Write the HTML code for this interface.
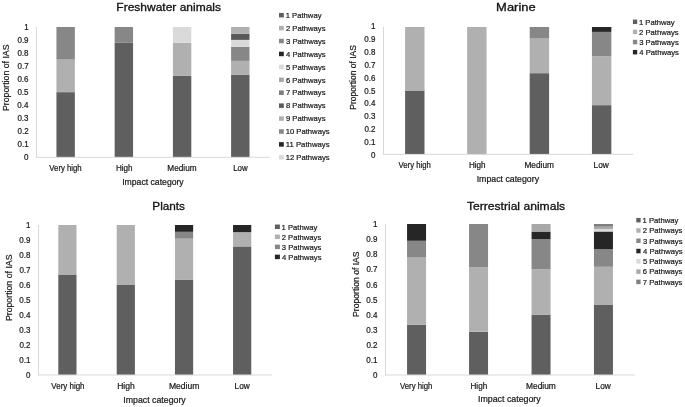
<!DOCTYPE html>
<html><head><meta charset="utf-8"><title>Pathways by impact category</title>
<style>
html,body{margin:0;padding:0;background:#fff;}
body{width:685px;height:407px;overflow:hidden;}
svg{display:block;font-family:"Liberation Sans",Arial,sans-serif;}
</style></head><body>
<svg width="685" height="407" viewBox="0 0 685 407">
<rect width="685" height="407" fill="#fff"/>
<rect x="56.45" y="92.15" width="18.40" height="65.15" fill="#5f5f5f"/>
<rect x="56.45" y="59.58" width="18.40" height="32.58" fill="#b0b0b0"/>
<rect x="56.45" y="27.00" width="18.40" height="32.58" fill="#878787"/>
<rect x="114.65" y="42.80" width="18.40" height="114.50" fill="#5f5f5f"/>
<rect x="114.65" y="27.00" width="18.40" height="15.80" fill="#878787"/>
<rect x="172.90" y="75.86" width="18.40" height="81.44" fill="#5f5f5f"/>
<rect x="172.90" y="42.80" width="18.40" height="33.06" fill="#b0b0b0"/>
<rect x="172.90" y="27.00" width="18.40" height="15.80" fill="#dadada"/>
<rect x="231.10" y="74.90" width="18.40" height="82.40" fill="#5f5f5f"/>
<rect x="231.10" y="60.90" width="18.40" height="14.00" fill="#b0b0b0"/>
<rect x="231.10" y="46.85" width="18.40" height="14.05" fill="#878787"/>
<rect x="231.10" y="39.90" width="18.40" height="6.95" fill="#dadada"/>
<rect x="231.10" y="33.75" width="18.40" height="6.15" fill="#595959"/>
<rect x="231.10" y="27.00" width="18.40" height="6.75" fill="#b0b0b0"/>
<rect x="36.00" y="27.00" width="1" height="130.80" fill="#d9d9d9"/>
<rect x="36.00" y="156.80" width="233.50" height="1" fill="#d9d9d9"/>
<text x="24.06" y="160.46" font-size="8.6" textLength="4.45" lengthAdjust="spacingAndGlyphs" fill="#161616" stroke="#161616" stroke-width="0.2">0</text>
<text x="17.47" y="147.37" font-size="8.6" textLength="11.12" lengthAdjust="spacingAndGlyphs" fill="#161616" stroke="#161616" stroke-width="0.2">0.1</text>
<text x="17.48" y="134.28" font-size="8.6" textLength="11.12" lengthAdjust="spacingAndGlyphs" fill="#161616" stroke="#161616" stroke-width="0.2">0.2</text>
<text x="17.43" y="121.19" font-size="8.6" textLength="11.12" lengthAdjust="spacingAndGlyphs" fill="#161616" stroke="#161616" stroke-width="0.2">0.3</text>
<text x="17.32" y="108.10" font-size="8.6" textLength="11.12" lengthAdjust="spacingAndGlyphs" fill="#161616" stroke="#161616" stroke-width="0.2">0.4</text>
<text x="17.42" y="95.01" font-size="8.6" textLength="11.12" lengthAdjust="spacingAndGlyphs" fill="#161616" stroke="#161616" stroke-width="0.2">0.5</text>
<text x="17.43" y="81.92" font-size="8.6" textLength="11.12" lengthAdjust="spacingAndGlyphs" fill="#161616" stroke="#161616" stroke-width="0.2">0.6</text>
<text x="17.48" y="68.83" font-size="8.6" textLength="11.12" lengthAdjust="spacingAndGlyphs" fill="#161616" stroke="#161616" stroke-width="0.2">0.7</text>
<text x="17.43" y="55.74" font-size="8.6" textLength="11.12" lengthAdjust="spacingAndGlyphs" fill="#161616" stroke="#161616" stroke-width="0.2">0.8</text>
<text x="17.46" y="42.65" font-size="8.6" textLength="11.12" lengthAdjust="spacingAndGlyphs" fill="#161616" stroke="#161616" stroke-width="0.2">0.9</text>
<text x="24.14" y="29.56" font-size="8.6" textLength="4.45" lengthAdjust="spacingAndGlyphs" fill="#161616" stroke="#161616" stroke-width="0.2">1</text>
<text x="49.37" y="171.20" font-size="8.2" textLength="32.33" lengthAdjust="spacingAndGlyphs" fill="#161616" stroke="#161616" stroke-width="0.2">Very high</text>
<text x="115.93" y="171.20" font-size="8.2" textLength="16.69" lengthAdjust="spacingAndGlyphs" fill="#161616" stroke="#161616" stroke-width="0.2">High</text>
<text x="167.33" y="171.20" font-size="8.2" textLength="29.22" lengthAdjust="spacingAndGlyphs" fill="#161616" stroke="#161616" stroke-width="0.2">Medium</text>
<text x="233.25" y="171.20" font-size="8.2" textLength="14.43" lengthAdjust="spacingAndGlyphs" fill="#161616" stroke="#161616" stroke-width="0.2">Low</text>
<text x="122.20" y="185.00" font-size="8.6" textLength="61.51" lengthAdjust="spacingAndGlyphs" fill="#161616" stroke="#161616" stroke-width="0.2">Impact category</text>
<text x="116.32" y="10.80" font-size="10.9" textLength="104.72" lengthAdjust="spacingAndGlyphs" fill="#111111" stroke="#111111" stroke-width="0.3">Freshwater animals</text>
<text transform="translate(8.74,111.02) rotate(-90)" x="0" y="0" font-size="8.2" textLength="66.52" lengthAdjust="spacingAndGlyphs" fill="#161616" stroke="#161616" stroke-width="0.2">Proportion of IAS</text>
<rect x="279.00" y="12.95" width="4.80" height="4.5" fill="#5f5f5f"/>
<text x="285.72" y="17.95" font-size="8.0" textLength="35.75" lengthAdjust="spacingAndGlyphs" fill="#161616" stroke="#161616" stroke-width="0.2">1 Pathway</text>
<rect x="279.00" y="25.87" width="4.80" height="4.5" fill="#b0b0b0"/>
<text x="285.91" y="30.87" font-size="8.0" textLength="39.58" lengthAdjust="spacingAndGlyphs" fill="#161616" stroke="#161616" stroke-width="0.2">2 Pathways</text>
<rect x="279.00" y="38.79" width="4.80" height="4.5" fill="#878787"/>
<text x="286.01" y="43.79" font-size="8.0" textLength="39.58" lengthAdjust="spacingAndGlyphs" fill="#161616" stroke="#161616" stroke-width="0.2">3 Pathways</text>
<rect x="279.00" y="51.71" width="4.80" height="4.5" fill="#262626"/>
<text x="286.12" y="56.71" font-size="8.0" textLength="39.58" lengthAdjust="spacingAndGlyphs" fill="#161616" stroke="#161616" stroke-width="0.2">4 Pathways</text>
<rect x="279.00" y="64.63" width="4.80" height="4.5" fill="#dadada"/>
<text x="285.99" y="69.63" font-size="8.0" textLength="39.58" lengthAdjust="spacingAndGlyphs" fill="#161616" stroke="#161616" stroke-width="0.2">5 Pathways</text>
<rect x="279.00" y="77.55" width="4.80" height="4.5" fill="#a8a8a8"/>
<text x="285.91" y="82.55" font-size="8.0" textLength="39.58" lengthAdjust="spacingAndGlyphs" fill="#161616" stroke="#161616" stroke-width="0.2">6 Pathways</text>
<rect x="279.00" y="90.47" width="4.80" height="4.5" fill="#7f7f7f"/>
<text x="285.91" y="95.47" font-size="8.0" textLength="39.58" lengthAdjust="spacingAndGlyphs" fill="#161616" stroke="#161616" stroke-width="0.2">7 Pathways</text>
<rect x="279.00" y="103.39" width="4.80" height="4.5" fill="#595959"/>
<text x="285.97" y="108.39" font-size="8.0" textLength="39.58" lengthAdjust="spacingAndGlyphs" fill="#161616" stroke="#161616" stroke-width="0.2">8 Pathways</text>
<rect x="279.00" y="116.31" width="4.80" height="4.5" fill="#b0b0b0"/>
<text x="285.94" y="121.31" font-size="8.0" textLength="39.58" lengthAdjust="spacingAndGlyphs" fill="#161616" stroke="#161616" stroke-width="0.2">9 Pathways</text>
<rect x="279.00" y="129.23" width="4.80" height="4.5" fill="#878787"/>
<text x="285.72" y="134.23" font-size="8.0" textLength="43.84" lengthAdjust="spacingAndGlyphs" fill="#161616" stroke="#161616" stroke-width="0.2">10 Pathways</text>
<rect x="279.00" y="142.15" width="4.80" height="4.5" fill="#262626"/>
<text x="285.72" y="147.15" font-size="8.0" textLength="43.84" lengthAdjust="spacingAndGlyphs" fill="#161616" stroke="#161616" stroke-width="0.2">11 Pathways</text>
<rect x="279.00" y="155.07" width="4.80" height="4.5" fill="#dadada"/>
<text x="285.72" y="160.07" font-size="8.0" textLength="43.84" lengthAdjust="spacingAndGlyphs" fill="#161616" stroke="#161616" stroke-width="0.2">12 Pathways</text>
<rect x="405.10" y="90.50" width="19.40" height="63.50" fill="#5f5f5f"/>
<rect x="405.10" y="27.00" width="19.40" height="63.50" fill="#b0b0b0"/>
<rect x="467.15" y="27.00" width="19.40" height="127.00" fill="#b0b0b0"/>
<rect x="529.70" y="73.18" width="19.40" height="80.82" fill="#5f5f5f"/>
<rect x="529.70" y="38.55" width="19.40" height="34.64" fill="#b0b0b0"/>
<rect x="529.70" y="27.00" width="19.40" height="11.55" fill="#878787"/>
<rect x="591.95" y="105.15" width="19.40" height="48.85" fill="#5f5f5f"/>
<rect x="591.95" y="56.31" width="19.40" height="48.85" fill="#b0b0b0"/>
<rect x="591.95" y="31.88" width="19.40" height="24.42" fill="#878787"/>
<rect x="591.95" y="27.00" width="19.40" height="4.88" fill="#262626"/>
<rect x="383.00" y="27.00" width="1" height="127.50" fill="#d9d9d9"/>
<rect x="383.00" y="153.90" width="250.30" height="1" fill="#d9d9d9"/>
<text x="370.96" y="157.56" font-size="8.6" textLength="4.45" lengthAdjust="spacingAndGlyphs" fill="#161616" stroke="#161616" stroke-width="0.2">0</text>
<text x="364.37" y="144.75" font-size="8.6" textLength="11.12" lengthAdjust="spacingAndGlyphs" fill="#161616" stroke="#161616" stroke-width="0.2">0.1</text>
<text x="364.38" y="131.94" font-size="8.6" textLength="11.12" lengthAdjust="spacingAndGlyphs" fill="#161616" stroke="#161616" stroke-width="0.2">0.2</text>
<text x="364.33" y="119.13" font-size="8.6" textLength="11.12" lengthAdjust="spacingAndGlyphs" fill="#161616" stroke="#161616" stroke-width="0.2">0.3</text>
<text x="364.22" y="106.32" font-size="8.6" textLength="11.12" lengthAdjust="spacingAndGlyphs" fill="#161616" stroke="#161616" stroke-width="0.2">0.4</text>
<text x="364.32" y="93.51" font-size="8.6" textLength="11.12" lengthAdjust="spacingAndGlyphs" fill="#161616" stroke="#161616" stroke-width="0.2">0.5</text>
<text x="364.33" y="80.70" font-size="8.6" textLength="11.12" lengthAdjust="spacingAndGlyphs" fill="#161616" stroke="#161616" stroke-width="0.2">0.6</text>
<text x="364.38" y="67.89" font-size="8.6" textLength="11.12" lengthAdjust="spacingAndGlyphs" fill="#161616" stroke="#161616" stroke-width="0.2">0.7</text>
<text x="364.33" y="55.08" font-size="8.6" textLength="11.12" lengthAdjust="spacingAndGlyphs" fill="#161616" stroke="#161616" stroke-width="0.2">0.8</text>
<text x="364.36" y="42.27" font-size="8.6" textLength="11.12" lengthAdjust="spacingAndGlyphs" fill="#161616" stroke="#161616" stroke-width="0.2">0.9</text>
<text x="371.04" y="29.46" font-size="8.6" textLength="4.45" lengthAdjust="spacingAndGlyphs" fill="#161616" stroke="#161616" stroke-width="0.2">1</text>
<text x="398.57" y="167.80" font-size="8.2" textLength="32.23" lengthAdjust="spacingAndGlyphs" fill="#161616" stroke="#161616" stroke-width="0.2">Very high</text>
<text x="468.93" y="167.80" font-size="8.2" textLength="16.69" lengthAdjust="spacingAndGlyphs" fill="#161616" stroke="#161616" stroke-width="0.2">High</text>
<text x="524.42" y="167.80" font-size="8.2" textLength="29.53" lengthAdjust="spacingAndGlyphs" fill="#161616" stroke="#161616" stroke-width="0.2">Medium</text>
<text x="593.52" y="167.80" font-size="8.2" textLength="15.26" lengthAdjust="spacingAndGlyphs" fill="#161616" stroke="#161616" stroke-width="0.2">Low</text>
<text x="476.69" y="182.20" font-size="8.6" textLength="62.33" lengthAdjust="spacingAndGlyphs" fill="#161616" stroke="#161616" stroke-width="0.2">Impact category</text>
<text x="496.14" y="10.90" font-size="10.9" textLength="39.54" lengthAdjust="spacingAndGlyphs" fill="#111111" stroke="#111111" stroke-width="0.3">Marine</text>
<text transform="translate(356.44,109.70) rotate(-90)" x="0" y="0" font-size="8.2" textLength="64.58" lengthAdjust="spacingAndGlyphs" fill="#161616" stroke="#161616" stroke-width="0.2">Proportion of IAS</text>
<rect x="632.90" y="19.55" width="4.30" height="4.5" fill="#5f5f5f"/>
<text x="638.92" y="24.55" font-size="8.0" textLength="35.75" lengthAdjust="spacingAndGlyphs" fill="#161616" stroke="#161616" stroke-width="0.2">1 Pathway</text>
<rect x="632.90" y="29.68" width="4.30" height="4.5" fill="#b0b0b0"/>
<text x="639.11" y="34.68" font-size="8.0" textLength="39.58" lengthAdjust="spacingAndGlyphs" fill="#161616" stroke="#161616" stroke-width="0.2">2 Pathways</text>
<rect x="632.90" y="39.81" width="4.30" height="4.5" fill="#878787"/>
<text x="639.21" y="44.81" font-size="8.0" textLength="39.58" lengthAdjust="spacingAndGlyphs" fill="#161616" stroke="#161616" stroke-width="0.2">3 Pathways</text>
<rect x="632.90" y="49.94" width="4.30" height="4.5" fill="#262626"/>
<text x="639.32" y="54.94" font-size="8.0" textLength="39.58" lengthAdjust="spacingAndGlyphs" fill="#161616" stroke="#161616" stroke-width="0.2">4 Pathways</text>
<rect x="58.30" y="275.00" width="18.20" height="100.00" fill="#5f5f5f"/>
<rect x="58.30" y="225.00" width="18.20" height="50.00" fill="#b0b0b0"/>
<rect x="116.70" y="285.00" width="18.20" height="90.00" fill="#5f5f5f"/>
<rect x="116.70" y="225.00" width="18.20" height="60.00" fill="#b0b0b0"/>
<rect x="174.95" y="279.55" width="18.20" height="95.45" fill="#5f5f5f"/>
<rect x="174.95" y="238.64" width="18.20" height="40.91" fill="#b0b0b0"/>
<rect x="174.95" y="231.82" width="18.20" height="6.82" fill="#878787"/>
<rect x="174.95" y="225.00" width="18.20" height="6.82" fill="#262626"/>
<rect x="233.05" y="246.43" width="18.20" height="128.57" fill="#5f5f5f"/>
<rect x="233.05" y="232.14" width="18.20" height="14.29" fill="#b0b0b0"/>
<rect x="233.05" y="225.00" width="18.20" height="7.14" fill="#262626"/>
<rect x="38.00" y="225.00" width="1" height="150.50" fill="#d9d9d9"/>
<rect x="38.00" y="374.50" width="233.80" height="1" fill="#d9d9d9"/>
<text x="25.96" y="377.86" font-size="8.6" textLength="4.45" lengthAdjust="spacingAndGlyphs" fill="#161616" stroke="#161616" stroke-width="0.2">0</text>
<text x="19.37" y="362.89" font-size="8.6" textLength="11.12" lengthAdjust="spacingAndGlyphs" fill="#161616" stroke="#161616" stroke-width="0.2">0.1</text>
<text x="19.38" y="347.92" font-size="8.6" textLength="11.12" lengthAdjust="spacingAndGlyphs" fill="#161616" stroke="#161616" stroke-width="0.2">0.2</text>
<text x="19.33" y="332.95" font-size="8.6" textLength="11.12" lengthAdjust="spacingAndGlyphs" fill="#161616" stroke="#161616" stroke-width="0.2">0.3</text>
<text x="19.22" y="317.98" font-size="8.6" textLength="11.12" lengthAdjust="spacingAndGlyphs" fill="#161616" stroke="#161616" stroke-width="0.2">0.4</text>
<text x="19.32" y="303.01" font-size="8.6" textLength="11.12" lengthAdjust="spacingAndGlyphs" fill="#161616" stroke="#161616" stroke-width="0.2">0.5</text>
<text x="19.33" y="288.04" font-size="8.6" textLength="11.12" lengthAdjust="spacingAndGlyphs" fill="#161616" stroke="#161616" stroke-width="0.2">0.6</text>
<text x="19.38" y="273.07" font-size="8.6" textLength="11.12" lengthAdjust="spacingAndGlyphs" fill="#161616" stroke="#161616" stroke-width="0.2">0.7</text>
<text x="19.33" y="258.10" font-size="8.6" textLength="11.12" lengthAdjust="spacingAndGlyphs" fill="#161616" stroke="#161616" stroke-width="0.2">0.8</text>
<text x="19.36" y="243.13" font-size="8.6" textLength="11.12" lengthAdjust="spacingAndGlyphs" fill="#161616" stroke="#161616" stroke-width="0.2">0.9</text>
<text x="26.04" y="228.16" font-size="8.6" textLength="4.45" lengthAdjust="spacingAndGlyphs" fill="#161616" stroke="#161616" stroke-width="0.2">1</text>
<text x="51.37" y="388.90" font-size="8.2" textLength="33.14" lengthAdjust="spacingAndGlyphs" fill="#161616" stroke="#161616" stroke-width="0.2">Very high</text>
<text x="117.20" y="388.90" font-size="8.2" textLength="17.55" lengthAdjust="spacingAndGlyphs" fill="#161616" stroke="#161616" stroke-width="0.2">High</text>
<text x="168.90" y="388.90" font-size="8.2" textLength="30.47" lengthAdjust="spacingAndGlyphs" fill="#161616" stroke="#161616" stroke-width="0.2">Medium</text>
<text x="234.62" y="388.90" font-size="8.2" textLength="15.16" lengthAdjust="spacingAndGlyphs" fill="#161616" stroke="#161616" stroke-width="0.2">Low</text>
<text x="123.39" y="402.60" font-size="8.6" textLength="62.33" lengthAdjust="spacingAndGlyphs" fill="#161616" stroke="#161616" stroke-width="0.2">Impact category</text>
<text x="152.34" y="209.70" font-size="10.9" textLength="32.69" lengthAdjust="spacingAndGlyphs" fill="#111111" stroke="#111111" stroke-width="0.3">Plants</text>
<text transform="translate(12.24,321.12) rotate(-90)" x="0" y="0" font-size="8.2" textLength="66.62" lengthAdjust="spacingAndGlyphs" fill="#161616" stroke="#161616" stroke-width="0.2">Proportion of IAS</text>
<rect x="274.90" y="224.55" width="5.00" height="4.5" fill="#5f5f5f"/>
<text x="281.52" y="229.55" font-size="8.0" textLength="35.75" lengthAdjust="spacingAndGlyphs" fill="#161616" stroke="#161616" stroke-width="0.2">1 Pathway</text>
<rect x="274.90" y="234.58" width="5.00" height="4.5" fill="#b0b0b0"/>
<text x="281.71" y="239.58" font-size="8.0" textLength="39.58" lengthAdjust="spacingAndGlyphs" fill="#161616" stroke="#161616" stroke-width="0.2">2 Pathways</text>
<rect x="274.90" y="244.61" width="5.00" height="4.5" fill="#878787"/>
<text x="281.81" y="249.61" font-size="8.0" textLength="39.58" lengthAdjust="spacingAndGlyphs" fill="#161616" stroke="#161616" stroke-width="0.2">3 Pathways</text>
<rect x="274.90" y="254.64" width="5.00" height="4.5" fill="#262626"/>
<text x="281.92" y="259.64" font-size="8.0" textLength="39.58" lengthAdjust="spacingAndGlyphs" fill="#161616" stroke="#161616" stroke-width="0.2">4 Pathways</text>
<rect x="407.05" y="324.67" width="19.00" height="50.33" fill="#5f5f5f"/>
<rect x="407.05" y="257.56" width="19.00" height="67.11" fill="#b0b0b0"/>
<rect x="407.05" y="240.78" width="19.00" height="16.78" fill="#878787"/>
<rect x="407.05" y="224.00" width="19.00" height="16.78" fill="#262626"/>
<rect x="469.05" y="331.86" width="19.00" height="43.14" fill="#5f5f5f"/>
<rect x="469.05" y="267.14" width="19.00" height="64.71" fill="#b0b0b0"/>
<rect x="469.05" y="224.00" width="19.00" height="43.14" fill="#878787"/>
<rect x="531.55" y="314.60" width="19.00" height="60.40" fill="#5f5f5f"/>
<rect x="531.55" y="269.30" width="19.00" height="45.30" fill="#b0b0b0"/>
<rect x="531.55" y="239.10" width="19.00" height="30.20" fill="#878787"/>
<rect x="531.55" y="231.55" width="19.00" height="7.55" fill="#262626"/>
<rect x="531.55" y="224.00" width="19.00" height="7.55" fill="#a8a8a8"/>
<rect x="593.95" y="304.53" width="19.00" height="70.47" fill="#5f5f5f"/>
<rect x="593.95" y="266.78" width="19.00" height="37.75" fill="#b0b0b0"/>
<rect x="593.95" y="249.17" width="19.00" height="17.62" fill="#878787"/>
<rect x="593.95" y="231.50" width="19.00" height="17.67" fill="#262626"/>
<rect x="593.95" y="229.00" width="19.00" height="2.50" fill="#dadada"/>
<rect x="593.95" y="226.70" width="19.00" height="2.30" fill="#a8a8a8"/>
<rect x="593.95" y="224.00" width="19.00" height="2.70" fill="#7f7f7f"/>
<rect x="385.00" y="224.00" width="1" height="151.50" fill="#d9d9d9"/>
<rect x="385.00" y="374.50" width="249.90" height="1" fill="#d9d9d9"/>
<text x="372.96" y="378.06" font-size="8.6" textLength="4.45" lengthAdjust="spacingAndGlyphs" fill="#161616" stroke="#161616" stroke-width="0.2">0</text>
<text x="366.37" y="362.97" font-size="8.6" textLength="11.12" lengthAdjust="spacingAndGlyphs" fill="#161616" stroke="#161616" stroke-width="0.2">0.1</text>
<text x="366.38" y="347.88" font-size="8.6" textLength="11.12" lengthAdjust="spacingAndGlyphs" fill="#161616" stroke="#161616" stroke-width="0.2">0.2</text>
<text x="366.33" y="332.79" font-size="8.6" textLength="11.12" lengthAdjust="spacingAndGlyphs" fill="#161616" stroke="#161616" stroke-width="0.2">0.3</text>
<text x="366.22" y="317.70" font-size="8.6" textLength="11.12" lengthAdjust="spacingAndGlyphs" fill="#161616" stroke="#161616" stroke-width="0.2">0.4</text>
<text x="366.32" y="302.61" font-size="8.6" textLength="11.12" lengthAdjust="spacingAndGlyphs" fill="#161616" stroke="#161616" stroke-width="0.2">0.5</text>
<text x="366.33" y="287.52" font-size="8.6" textLength="11.12" lengthAdjust="spacingAndGlyphs" fill="#161616" stroke="#161616" stroke-width="0.2">0.6</text>
<text x="366.38" y="272.43" font-size="8.6" textLength="11.12" lengthAdjust="spacingAndGlyphs" fill="#161616" stroke="#161616" stroke-width="0.2">0.7</text>
<text x="366.33" y="257.34" font-size="8.6" textLength="11.12" lengthAdjust="spacingAndGlyphs" fill="#161616" stroke="#161616" stroke-width="0.2">0.8</text>
<text x="366.36" y="242.25" font-size="8.6" textLength="11.12" lengthAdjust="spacingAndGlyphs" fill="#161616" stroke="#161616" stroke-width="0.2">0.9</text>
<text x="373.04" y="227.16" font-size="8.6" textLength="4.45" lengthAdjust="spacingAndGlyphs" fill="#161616" stroke="#161616" stroke-width="0.2">1</text>
<text x="400.07" y="388.60" font-size="8.2" textLength="32.33" lengthAdjust="spacingAndGlyphs" fill="#161616" stroke="#161616" stroke-width="0.2">Very high</text>
<text x="470.53" y="388.60" font-size="8.2" textLength="16.69" lengthAdjust="spacingAndGlyphs" fill="#161616" stroke="#161616" stroke-width="0.2">High</text>
<text x="526.01" y="388.60" font-size="8.2" textLength="29.84" lengthAdjust="spacingAndGlyphs" fill="#161616" stroke="#161616" stroke-width="0.2">Medium</text>
<text x="595.52" y="388.60" font-size="8.2" textLength="15.26" lengthAdjust="spacingAndGlyphs" fill="#161616" stroke="#161616" stroke-width="0.2">Low</text>
<text x="477.99" y="402.40" font-size="8.6" textLength="62.73" lengthAdjust="spacingAndGlyphs" fill="#161616" stroke="#161616" stroke-width="0.2">Impact category</text>
<text x="466.93" y="209.90" font-size="10.9" textLength="98.20" lengthAdjust="spacingAndGlyphs" fill="#111111" stroke="#111111" stroke-width="0.3">Terrestrial animals</text>
<text transform="translate(359.04,316.91) rotate(-90)" x="0" y="0" font-size="8.2" textLength="65.50" lengthAdjust="spacingAndGlyphs" fill="#161616" stroke="#161616" stroke-width="0.2">Proportion of IAS</text>
<rect x="636.30" y="217.95" width="4.30" height="4.5" fill="#5f5f5f"/>
<text x="642.62" y="222.95" font-size="8.0" textLength="35.75" lengthAdjust="spacingAndGlyphs" fill="#161616" stroke="#161616" stroke-width="0.2">1 Pathway</text>
<rect x="636.30" y="228.23" width="4.30" height="4.5" fill="#b0b0b0"/>
<text x="642.81" y="233.23" font-size="8.0" textLength="39.58" lengthAdjust="spacingAndGlyphs" fill="#161616" stroke="#161616" stroke-width="0.2">2 Pathways</text>
<rect x="636.30" y="238.51" width="4.30" height="4.5" fill="#878787"/>
<text x="642.91" y="243.51" font-size="8.0" textLength="39.58" lengthAdjust="spacingAndGlyphs" fill="#161616" stroke="#161616" stroke-width="0.2">3 Pathways</text>
<rect x="636.30" y="248.79" width="4.30" height="4.5" fill="#262626"/>
<text x="643.02" y="253.79" font-size="8.0" textLength="39.58" lengthAdjust="spacingAndGlyphs" fill="#161616" stroke="#161616" stroke-width="0.2">4 Pathways</text>
<rect x="636.30" y="259.07" width="4.30" height="4.5" fill="#dadada"/>
<text x="642.89" y="264.07" font-size="8.0" textLength="39.58" lengthAdjust="spacingAndGlyphs" fill="#161616" stroke="#161616" stroke-width="0.2">5 Pathways</text>
<rect x="636.30" y="269.35" width="4.30" height="4.5" fill="#a8a8a8"/>
<text x="642.81" y="274.35" font-size="8.0" textLength="39.58" lengthAdjust="spacingAndGlyphs" fill="#161616" stroke="#161616" stroke-width="0.2">6 Pathways</text>
<rect x="636.30" y="279.63" width="4.30" height="4.5" fill="#7f7f7f"/>
<text x="642.81" y="284.63" font-size="8.0" textLength="39.58" lengthAdjust="spacingAndGlyphs" fill="#161616" stroke="#161616" stroke-width="0.2">7 Pathways</text>
</svg>
</body></html>
